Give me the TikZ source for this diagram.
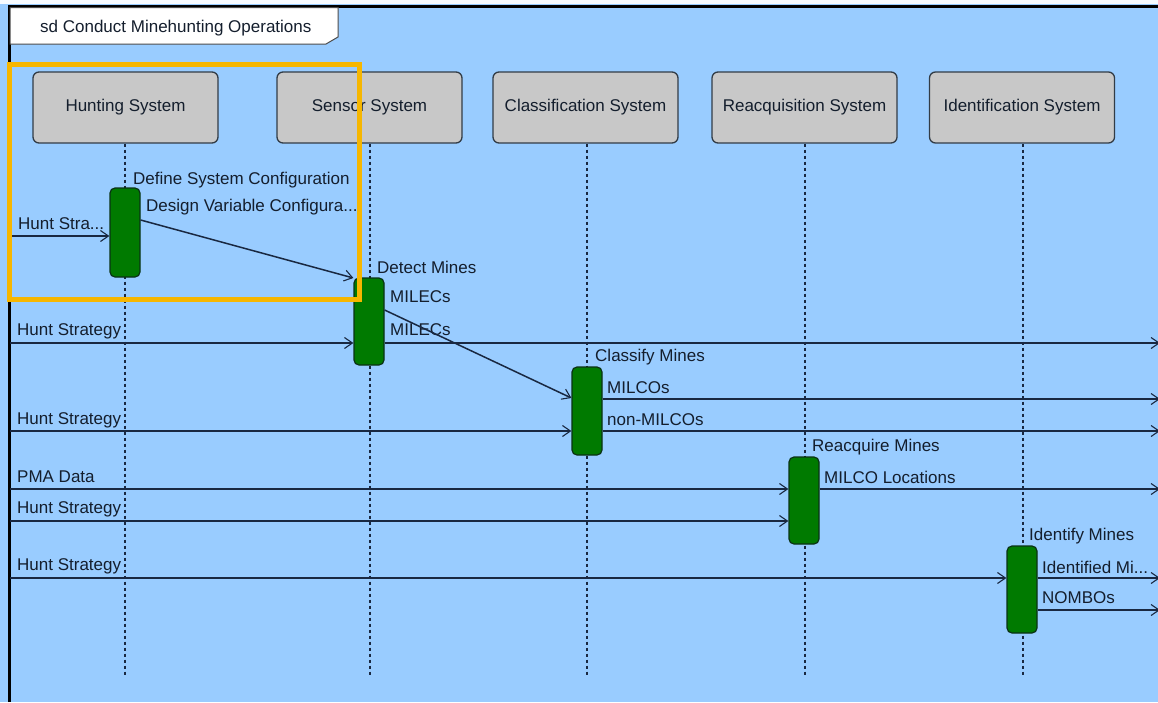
\documentclass[tikz,border=0pt]{standalone}
\usepackage{fontspec}
\setmainfont{Liberation Sans}
\usetikzlibrary{arrows.meta}
\definecolor{bgblue}{RGB}{153,204,255}
\definecolor{headgrey}{RGB}{200,200,200}
\definecolor{headline}{RGB}{50,60,70}
\definecolor{actgreen}{RGB}{0,122,0}
\definecolor{actline}{RGB}{10,50,20}
\definecolor{msgcol}{RGB}{25,40,65}
\definecolor{txtcol}{RGB}{20,30,45}
\definecolor{gold}{RGB}{246,182,0}
\tikzset{
  lifehead/.style={draw=headline, line width=1.3pt, fill=headgrey, rounded corners=6pt,
    minimum width=185pt, minimum height=71pt, inner sep=0pt, font=\fontsize{17}{19}\selectfont, text=txtcol},
  lifeline/.style={draw=msgcol, line width=1.3pt, dash pattern=on 3pt off 3pt},
  actbar/.style={draw=actline, line width=1.2pt, fill=actgreen, rounded corners=5pt,
    minimum width=30pt, inner sep=0pt},
  msg/.style={draw=msgcol, line width=1.5pt, -{Straight Barb[length=8pt,width=11pt,line width=1.1pt]}},
  lbl/.style={anchor=west, inner sep=0pt, font=\fontsize{17}{19}\selectfont, text=txtcol},
}
\begin{document}
\begin{tikzpicture}[x=1pt,y=-1pt]
\useasboundingbox (0,0) rectangle (1158,702);
\fill[bgblue] (0,0) rectangle (1158,702);
\fill[white!92!bgblue] (0,0) rectangle (1158,3.5);
% frame
\draw[black, line width=3pt] (9,702) -- (9,6) -- (1158,6);
\draw[fill=white, draw=black!70, line width=1pt] (10,7.5) -- (338,7.5) -- (338,37) -- (326,44) -- (10,44) -- cycle;
\node[lbl] (title) at (40,28) {sd Conduct Minehunting Operations};
% lifeline heads
\node[lifehead] (hs) at (125.5,107.5) {Hunting System};
\node[lifehead] (ss) at (369.5,107.5) {Sensor System};
\node[lifehead] (cs) at (585.5,107.5) {Classification System};
\node[lifehead] (rs) at (804.5,107.5) {Reacquisition System};
\node[lifehead] (is) at (1022,107.5) {Identification System};
% lifeline ends
\coordinate (hend) at (125,677);
\coordinate (send) at (370,677);
\coordinate (cend) at (587,677);
\coordinate (rend) at (805,677);
\coordinate (iend) at (1023,677);
\draw[lifeline] (hs.south -| hend) -- (hend);
\draw[lifeline] (ss.south -| send) -- (send);
\draw[lifeline] (cs.south -| cend) -- (cend);
\draw[lifeline] (rs.south -| rend) -- (rend);
\draw[lifeline] (is.south -| iend) -- (iend);
% activation bars
\node[actbar, minimum height=89pt] (hb) at (125,232.5) {};
\node[actbar, minimum height=87pt] (sb) at (369,321.5) {};
\node[actbar, minimum height=88pt] (cb) at (587,411) {};
\node[actbar, minimum height=87pt] (rb) at (804,500.5) {};
\node[actbar, minimum height=87pt] (ib) at (1022,589.5) {};
% frame-edge gates
\coordinate (g1) at (10,236);
\coordinate (g2) at (10,343);
\coordinate (g3) at (10,431);
\coordinate (g4) at (10,489);
\coordinate (g5) at (10,521);
\coordinate (g6) at (10,578);
\coordinate (o1) at (1160,343);
\coordinate (o2) at (1160,399);
\coordinate (o3) at (1160,431);
\coordinate (o4) at (1160,489);
\coordinate (o5) at (1160,578);
\coordinate (o6) at (1160,610);
% messages
\draw[msg] (g1) -- (hb.west |- g1);
\node[lbl] (l1) at (18,224) {Hunt Stra...};
\node[lbl] (l2) at (133,180) {Define System Configuration};
\node[lbl] (l3) at (146,207) {Design Variable Configura...};
\draw[msg] (hb.east |- 0,220) -- (sb.west |- 0,278);
\node[lbl] (l4) at (377,267) {Detect Mines};
\node[lbl] (l5) at (390,297) {MILECs};
\node[lbl] (l6) at (390,330) {MILECs};
\node[lbl] (l7) at (17,331) {Hunt Strategy};
\draw[msg] (g2) -- (sb.west |- g2);
\draw[msg] (sb.east |- o1) -- (o1);
\draw[msg] (sb.east |- 0,310) -- (cb.west |- 0,398);
\node[lbl] (l8) at (595,357) {Classify Mines};
\node[lbl] (l9) at (607,388) {MILCOs};
\node[lbl] (l10) at (607,420) {non-MILCOs};
\node[lbl] (l11) at (17,420) {Hunt Strategy};
\draw[msg] (g3) -- (cb.west |- g3);
\draw[msg] (cb.east |- o2) -- (o2);
\draw[msg] (cb.east |- o3) -- (o3);
\node[lbl] (l12) at (812,447) {Reacquire Mines};
\node[lbl] (l13) at (824,477) {MILCO Locations};
\node[lbl] (l14) at (17,477) {PMA Data};
\node[lbl] (l15) at (17,509) {Hunt Strategy};
\draw[msg] (g4) -- (rb.west |- g4);
\draw[msg] (g5) -- (rb.west |- g5);
\draw[msg] (rb.east |- o4) -- (o4);
\node[lbl] (l16) at (1029,536) {Identify Mines};
\node[lbl] (l17) at (1042,567) {Identified Mi...};
\node[lbl] (l18) at (1042,598) {NOMBOs};
\node[lbl] (l19) at (17,566) {Hunt Strategy};
\draw[msg] (g6) -- (ib.west |- g6);
\draw[msg] (ib.east |- o5) -- (o5);
\draw[msg] (ib.east |- o6) -- (o6);
% highlight
\draw[gold, line width=5.5pt] (9.5,64.5) rectangle (359.5,299.5);
\end{tikzpicture}
\end{document}
